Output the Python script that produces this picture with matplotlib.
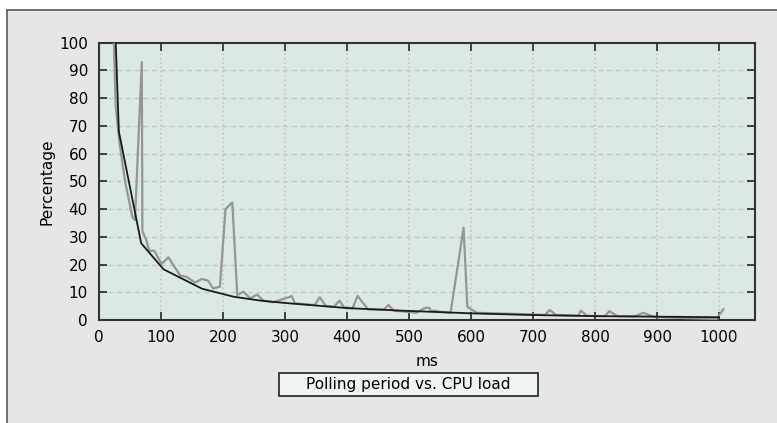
import matplotlib
matplotlib.use('Agg')
import matplotlib.pyplot as plt
from matplotlib.patches import Rectangle

plt.rcParams['font.family'] = ['DejaVu Sans']

# measured CPU load (grey) and fitted curve (black)
meas_ms = [24, 27, 33, 42, 54, 58, 69, 70, 76, 81, 89, 101, 112, 131, 141, 155, 166, 176,
           184, 195, 204, 215, 223, 233, 244, 255, 265, 281, 311, 316, 348, 356, 366, 379,
           388, 395, 409, 417, 434, 459, 467, 475, 512, 520, 526, 533, 536, 540, 549, 567,
           588, 594, 609, 700, 719, 727, 737, 773, 777, 787, 816, 823, 836, 864, 878, 893,
           900, 996, 1007]
meas_pct = [100, 77, 64, 50, 37, 36, 93, 32, 29, 25, 25, 20.2, 22.6, 16, 15.6, 13.5, 14.8, 14.2,
            11.4, 12, 40, 42.4, 9, 10.2, 7.8, 9.2, 7.0, 6.4, 8.6, 6.0, 5.4, 8.2, 5.0, 4.8,
            7.0, 4.6, 4.2, 8.7, 3.8, 3.8, 5.4, 3.4, 2.6, 3.6, 4.4, 4.4, 3.0, 3.4, 3.0, 2.6,
            33.3, 4.8, 2.6, 2.0, 1.8, 3.6, 1.8, 1.6, 3.4, 1.5, 1.4, 3.2, 1.4, 1.3, 2.6, 1.3,
            1.0, 0.4, 3.9]

fit_ms = [27, 32, 68, 104, 166, 217, 260, 297, 400, 485, 600, 700, 800, 900, 1000]
fit_pct = [100, 68, 27.7, 18.3, 11.3, 8.4, 7.0, 6.2, 4.3, 3.4, 2.4, 1.8, 1.4, 1.2, 1.0]

xticks = list(range(0, 1001, 100))
yticks = list(range(0, 101, 10))

fig = plt.figure(figsize=(7.77, 4.23), dpi=100)
fig.patch.set_facecolor('white')

# grey panel framing the chart
fig.patches.append(Rectangle((7 / 777, -0.05), 1.05, 1 - 10 / 423 + 0.05,
                             transform=fig.transFigure, facecolor='#e5e6e7',
                             edgecolor='#555555', linewidth=1.2, zorder=-5))

ax = fig.add_axes([99 / 777, 1 - 320 / 423, (755 - 99) / 777, (320 - 42.7) / 423])
ax.set_facecolor('#dce8e5')

ax.plot(meas_ms, meas_pct, color='#959595', linewidth=1.6, zorder=3)
ax.plot(fit_ms, fit_pct, color='#1a1a1a', linewidth=1.3, zorder=4)

ax.set_xlim(0, 1058)
ax.set_ylim(0, 100)
ax.set_xticks(xticks)
ax.set_yticks(yticks)
ax.tick_params(direction='in', length=6, width=1.3, labelsize=11, colors='#333333',
               labelcolor='black', top=True, right=True)
ax.tick_params(axis='x', pad=7.5)
ax.tick_params(axis='y', pad=8)

ax.grid(True, axis='y', color='#c4c4c4', linestyle=(0, (4, 3)), linewidth=0.9)
ax.grid(True, axis='x', color='#c4c4c4', linestyle=':', linewidth=1.2)
ax.set_axisbelow(True)

for s in ax.spines.values():
    s.set_color('#333333')
    s.set_linewidth(1.5)

ax.set_xlabel('ms', fontsize=11, labelpad=6)
ax.set_ylabel('Percentage', fontsize=11, labelpad=3)

# caption box under the axis
fig.patches.append(Rectangle((279 / 777, 1 - 396 / 423), 259 / 777, 23 / 423,
                             transform=fig.transFigure, facecolor='#eef4f3',
                             edgecolor='#222222', linewidth=1.2, zorder=1))
fig.text(408.5 / 777, 1 - 384.5 / 423, 'Polling period vs. CPU load', fontsize=11,
         ha='center', va='center', zorder=2)

fig.savefig('out.png', dpi=100)
